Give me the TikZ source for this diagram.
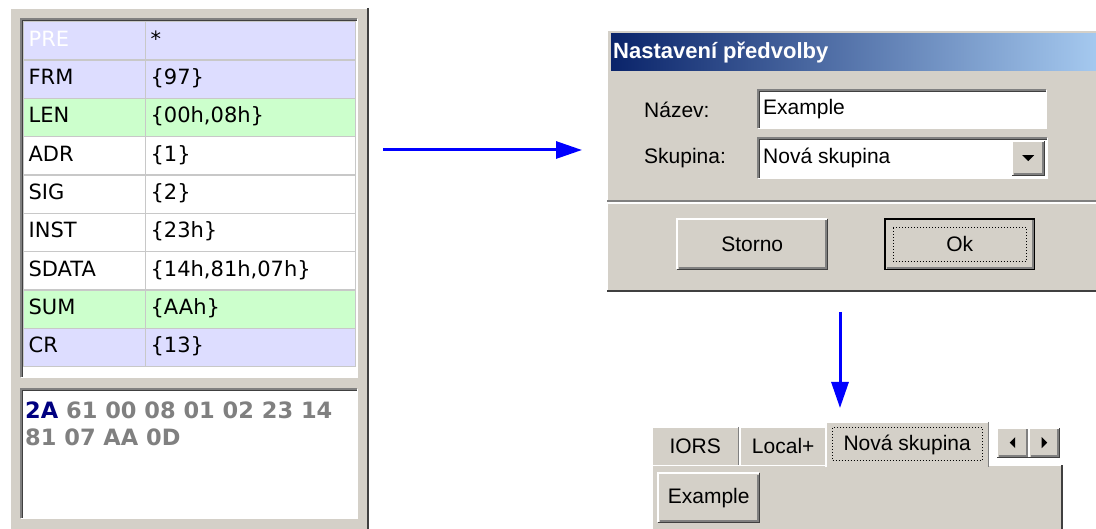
\documentclass[tikz,border=0pt]{standalone}
\usepackage{fontspec}
\setmainfont{Liberation Sans}
\newfontfamily\gridfont{DejaVu Sans}
\usetikzlibrary{arrows.meta, positioning}
\definecolor{winface}{RGB}{212,208,200}
\definecolor{winshadow}{RGB}{128,128,128}
\definecolor{windark}{RGB}{64,64,64}
\definecolor{rowblue}{RGB}{221,221,255}
\definecolor{rowgreen}{RGB}{204,255,204}
\definecolor{gridline}{RGB}{200,200,200}
\definecolor{titlenavy}{RGB}{10,36,106}
\definecolor{titlesky}{RGB}{166,202,240}
\definecolor{hexnavy}{RGB}{0,0,128}
\definecolor{hexgray}{RGB}{128,128,128}
\definecolor{flowblue}{RGB}{0,0,255}

\begin{document}
\begin{tikzpicture}[
    x=1pt, y=-1pt,
    box/.style={rectangle, inner sep=0pt, anchor=north west},
    face/.style={box, fill=winface},
    well/.style={box, fill=white},
    hilite/.style={white, line width=1.5pt},
    lowlite/.style={winshadow, line width=1.5pt},
    cell/.style={rectangle, draw=gridline, line width=1.2pt, anchor=north west, inner xsep=5pt, inner ysep=0pt,
        minimum height=38.33pt, text height=15pt, text depth=4pt, align=left, font=\gridfont\fontsize{21}{24}\selectfont},
    ui/.style={font=\fontsize{21}{25}\selectfont, inner sep=0pt},
    flow/.style={flowblue, line width=3pt, -{Triangle[length=26pt, width=17pt]}}
]
\useasboundingbox (0,0) rectangle (1096,529);
\fill[white] (0,0) rectangle (1096,529);

% Frame grid panel
\node[face, minimum width=358pt, minimum height=525pt] (frame) at (10,8) {};
\draw[hilite] (frame.south west) |- (frame.north east);
\draw[windark, line width=2pt] (frame.north east) -- (frame.south east);

\node[well, minimum width=336pt, minimum height=358pt] (tbl) at (21,19) {};
\node[well, minimum width=336pt, minimum height=129pt] (hexbox) at (21,389) {};

% Field rows
\foreach \lbl/\val/\clr/\ink [count=\i] in {
    PRE/*/rowblue/white,
    FRM/\{97\}/rowblue/black,
    LEN/{\{00h,08h\}}/rowgreen/black,
    ADR/\{1\}/white/black,
    SIG/\{2\}/white/black,
    INST/\{23h\}/white/black,
    SDATA/{\{14h,81h,07h\}}/white/black,
    SUM/\{AAh\}/rowgreen/black,
    CR/\{13\}/rowblue/black}
{
    \node[cell, fill=\clr, text=\ink, text width=112pt] (lbl\i) at (23, {21+(\i-1)*38.33}) {\lbl};
    \node[cell, fill=\clr, text width=200pt] (val\i) at (145, {21+(\i-1)*38.33}) {\val};
}

% Raw bytes
\node[anchor=north west, inner sep=0pt, align=left, text=hexgray,
    font=\gridfont\bfseries\fontsize{22.5}{27}\selectfont] (hex) at (25,402)
    {\textcolor{hexnavy}{2A} 61 00 08 01 02 23 14\\81 07 AA 0D};

% Preset dialog
\node[face, minimum width=495pt, minimum height=261pt] (dialog) at (607,30) {};
\draw[hilite] (dialog.south west) |- (dialog.north east);
\draw[windark, line width=2pt] (dialog.south west) -- (dialog.south east);
\shade[left color=titlenavy, right color=titlesky] (611,34) rectangle (1100,71);
\node[anchor=west, inner sep=0pt, text=white, font=\bfseries\fontsize{22}{26}\selectfont] (title) at (613,53) {Nastavení předvolby};

\node[ui, anchor=west] (namelbl) at (644,110) {Název:};
\node[ui, anchor=west] (grouplbl) at (644,158) {Skupina:};
\node[well, minimum width=288pt, minimum height=38pt] (namefield) at (758,90) {};
\node[ui, anchor=west] (nametext) at ([xshift=5pt]namefield.west) {Example};
\node[well, minimum width=289pt, minimum height=40pt] (groupfield) at (758,138) {};
\node[ui, anchor=west] (grouptext) at ([xshift=5pt]groupfield.west) {Nová skupina};
\node[face, minimum width=32pt, minimum height=34pt] (dropbtn) at (1012,141) {};

\draw[lowlite] (dialog.west |- 0,201) -- (dialog.east |- 0,201);
\draw[hilite] (dialog.west |- 0,203) -- (dialog.east |- 0,203);

\node[face, ui, minimum width=150pt, minimum height=50pt] (storno) at (677,219) {Storno};
\node[face, ui, minimum width=149pt, minimum height=50pt] (okbtn) at (885,219) {Ok};

% Group tabs
\node[face, minimum width=410pt, minimum height=70pt] (tabpage) at (652,465) {};
\draw[hilite] (tabpage.south west) |- (tabpage.north east);
\draw[windark, line width=2pt] (tabpage.north east) -- (tabpage.south east);
\node[face, ui, minimum width=86pt, minimum height=38pt] (tabiors) at (652,427) {IORS};
\node[face, ui, minimum width=86pt, minimum height=38pt] (tablocal) at (740,427) {Local+};
\node[face, ui, minimum width=162pt, minimum height=45pt] (tabnew) at (826,422) {Nová skupina};
\foreach \t in {tabiors,tablocal,tabnew} {
    \draw[hilite] (\t.south west) |- (\t.north east);
    \draw[lowlite] (\t.north east) -- (\t.south east);
}
\draw[dotted, line width=1pt] ([shift={(6,6)}]tabnew.north west) rectangle ([shift={(-6,-7)}]tabnew.south east);
\node[face, minimum width=31pt, minimum height=29pt] (scrl) at (997,428) {};
\node[face, minimum width=30pt, minimum height=29pt] (scrr) at (1029,428) {};
\node[face, ui, minimum width=101pt, minimum height=49pt] (example) at (658,473) {Example};

% 3D edges
\foreach \w in {tbl,hexbox,namefield,groupfield} {
    \draw[lowlite] (\w.south west) |- (\w.north east);
    \draw[windark, line width=1.5pt] ([shift={(1.5,0)}]\w.south west) |- ([shift={(0,1.5)}]\w.north east);
    \draw[hilite] (\w.south west) -| (\w.north east);
}
\foreach \b in {storno,okbtn,dropbtn,scrl,scrr,example} {
    \draw[hilite] (\b.south west) |- (\b.north east);
    \draw[windark, line width=1.5pt] (\b.south west) -| (\b.north east);
    \draw[lowlite] ([shift={(1.5,-1.5)}]\b.south west) -| ([shift={(-1.5,1.5)}]\b.north east);
}
\draw[black, line width=1.5pt] (okbtn.south west) rectangle (okbtn.north east);
\draw[dotted, line width=1pt] ([shift={(8,9)}]okbtn.north west) rectangle ([shift={(-8,-8)}]okbtn.south east);

% Glyphs on the small buttons
\fill[black] ([shift={(-6,-3)}]dropbtn.center) -- ([shift={(6,-3)}]dropbtn.center) -- ([shift={(0,3)}]dropbtn.center) -- cycle;
\fill[black] ([shift={(2.5,-5.5)}]scrl.center) -- ([shift={(2.5,5.5)}]scrl.center) -- ([shift={(-3,0)}]scrl.center) -- cycle;
\fill[black] ([shift={(-2.5,-5.5)}]scrr.center) -- ([shift={(-2.5,5.5)}]scrr.center) -- ([shift={(3,0)}]scrr.center) -- cycle;

% Flow arrows
\coordinate (fromgrid) at (383,150);
\draw[flow, shorten >=25pt] (fromgrid) -- (fromgrid -| dialog.west);
\coordinate (fromdlg) at (840,312);
\draw[flow, shorten >=14pt] (fromdlg) -- (fromdlg |- tabnew.north);
\end{tikzpicture}
\end{document}
